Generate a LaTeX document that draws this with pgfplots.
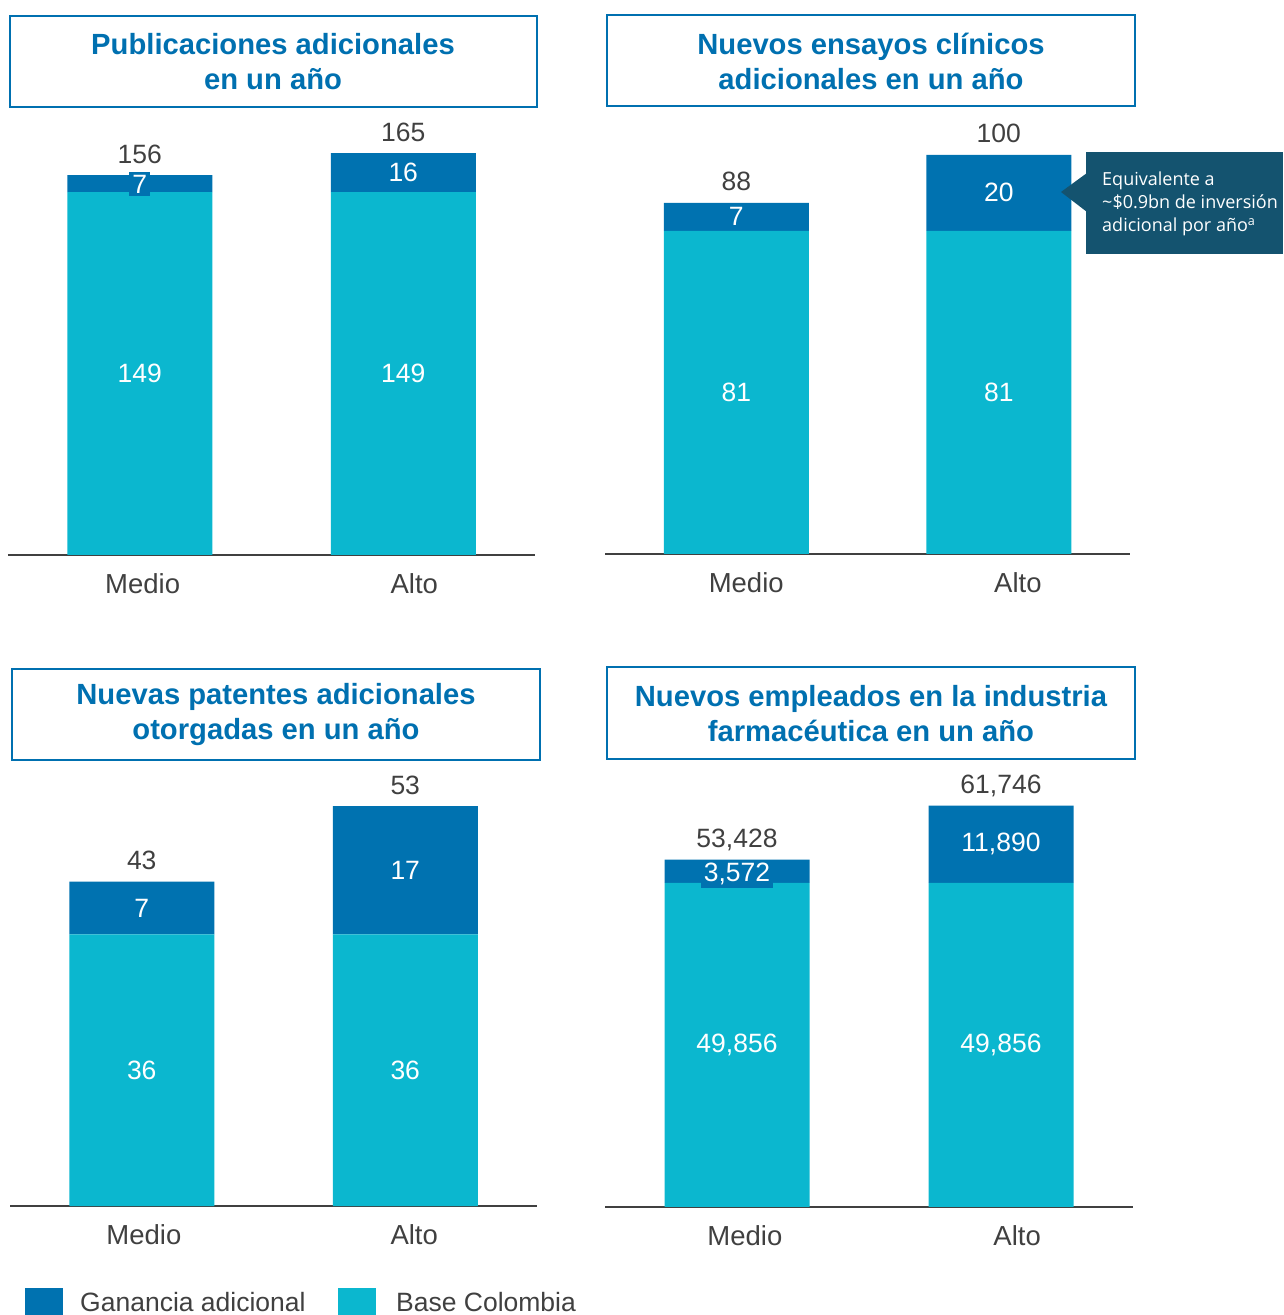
\documentclass[border=0pt]{standalone}
\usepackage{fontspec}
\setmainfont{Liberation Sans}
\newfontfamily\callfont{Open Sans}
\usepackage{pgfplots}
\pgfplotsset{compat=1.18}

\definecolor{gain}{RGB}{0,114,176}
\definecolor{base}{RGB}{11,183,207}
\definecolor{titleblue}{RGB}{0,112,176}
\definecolor{callout}{RGB}{20,83,111}
\definecolor{txt}{RGB}{64,64,64}

\pgfplotsset{
  panel/.style={
    scale only axis, width=527pt,
    anchor=south west,
    xmin=-0.5, xmax=1.5, ymin=0,
    ybar stacked, bar width=145pt,
    axis x line=bottom, axis y line=none,
    axis line style={-, draw=txt, line width=1.5pt},
    xticklabels={Medio,Alto},
    major tick length=0pt,
    xticklabel style={font=\fontsize{27.5}{32}\selectfont, text=txt, anchor=base, yshift=-38.5pt},
    clip=false,
  },
}
\tikzset{
  seg/.style={font=\fontsize{26.5}{30}\selectfont, text=white},
  tot/.style={font=\fontsize{26.5}{30}\selectfont, text=txt, anchor=base, yshift=12pt},
  ttl/.style={font=\fontsize{29.2}{35}\selectfont\bfseries, text=titleblue, align=center},
  box/.style={draw=titleblue, line width=2.5pt},
}

\begin{document}
\begin{tikzpicture}
\useasboundingbox (0,0) rectangle (1283pt,1315pt);

% titles
\draw[box] (10pt,1299pt) rectangle (537pt,1208pt);
\node[ttl] at (273pt,1253pt) {Publicaciones adicionales\\en un año};
\draw[box] (607pt,1300pt) rectangle (1135pt,1209pt);
\node[ttl] at (871pt,1254pt) {Nuevos ensayos clínicos\\adicionales en un año};
\draw[box] (12pt,646pt) rectangle (540pt,555pt);
\node[ttl] at (276pt,600pt) {Nuevas patentes adicionales\\otorgadas en un año};
\draw[box] (607pt,648pt) rectangle (1135pt,556pt);
\node[ttl] at (871pt,601pt) {Nuevos empleados en la industria\\farmacéutica en un año};

% panel 1
\begin{axis}[panel, at={(8pt,760pt)}, ymax=170, height=414pt, xtick={0.011,1.042}]
\addplot[fill=base, draw=none] coordinates {(0,149) (1,149)};
\addplot[fill=gain, draw=none] coordinates {(0,7) (1,16)};
\coordinate (a1) at (axis cs:0,74.5);
\coordinate (a2) at (axis cs:1,74.5);
\coordinate (a3) at (axis cs:0,152.2);
\coordinate (a4) at (axis cs:1,157);
\node[tot] at (axis cs:0,156) {156};
\node[tot] at (axis cs:1,165) {165};
\end{axis}
\node[seg] at (a1) {149};
\node[seg] at (a2) {149};
\node[seg, fill=gain, inner sep=3pt] at (a3) {7};
\node[seg] at (a4) {16};

% panel 2
\begin{axis}[panel, at={(605pt,761pt)}, width=525pt, ymax=105, height=419pt, xtick={0.038,1.073}]
\addplot[fill=base, draw=none] coordinates {(0,81) (1,81)};
\addplot[fill=gain, draw=none] coordinates {(0,7) (1,19)};
\coordinate (b1) at (axis cs:0,40.5);
\coordinate (b2) at (axis cs:1,40.5);
\coordinate (b3) at (axis cs:0,84.5);
\coordinate (b4) at (axis cs:1,90.5);
\node[tot] at (axis cs:0,88) {88};
\node[tot] at (axis cs:1,100) {100};
\end{axis}
\node[seg] at (b1) {81};
\node[seg] at (b2) {81};
\node[seg] at (b3) {7};
\node[seg] at (b4) {20};

% callout
\fill[callout] (1086pt,1163pt) rectangle (1283pt,1061pt);
\fill[callout] (1087pt,1142pt) -- (1061pt,1123pt) -- (1087pt,1103pt) -- cycle;
\node[anchor=north west, align=left, text=white, inner sep=0pt,
  font=\callfont\fontsize{18}{23}\selectfont] at (1102pt,1143pt)
  {Equivalente a\\\textasciitilde\$0.9bn de inversión\\adicional por año\textsuperscript{a}};

% panel 3
\begin{axis}[panel, at={(10pt,109pt)}, ymax=55, height=415pt, xtick={0.008,1.034}]
\addplot[fill=base, draw=none] coordinates {(0,36) (1,36)};
\addplot[fill=gain, draw=none] coordinates {(0,7) (1,17)};
\coordinate (c1) at (axis cs:0,18);
\coordinate (c2) at (axis cs:1,18);
\coordinate (c3) at (axis cs:0,39.5);
\coordinate (c4) at (axis cs:1,44.5);
\node[tot] at (axis cs:0,43) {43};
\node[tot] at (axis cs:1,53) {53};
\end{axis}
\node[seg] at (c1) {36};
\node[seg] at (c2) {36};
\node[seg] at (c3) {7};
\node[seg] at (c4) {17};

% panel 4
\begin{axis}[panel, at={(605pt,108pt)}, width=528pt, ymax=64000, height=416pt, xtick={0.03,1.061}]
\addplot[fill=base, draw=none] coordinates {(0,49856) (1,49856)};
\addplot[fill=gain, draw=none] coordinates {(0,3572) (1,11890)};
\coordinate (d1) at (axis cs:0,24928);
\coordinate (d2) at (axis cs:1,24928);
\coordinate (d3) at (axis cs:0,51250);
\coordinate (d4) at (axis cs:1,55801);
\node[tot] at (axis cs:0,53428) {53,428};
\node[tot] at (axis cs:1,61746) {61,746};
\end{axis}
\node[seg] at (d1) {49,856};
\node[seg] at (d2) {49,856};
\node[seg, fill=gain, inner sep=3pt] at (d3) {3,572};
\node[seg] at (d4) {11,890};

% legend
\fill[gain] (25pt,27pt) rectangle (63pt,-11pt);
\node[anchor=base west, inner sep=0pt, font=\fontsize{26.5}{30}\selectfont, text=txt] at (80pt,3pt) {Ganancia adicional};
\fill[base] (338pt,27pt) rectangle (376pt,-11pt);
\node[anchor=base west, inner sep=0pt, font=\fontsize{26.5}{30}\selectfont, text=txt] at (396pt,3pt) {Base Colombia};
\end{tikzpicture}
\end{document}
